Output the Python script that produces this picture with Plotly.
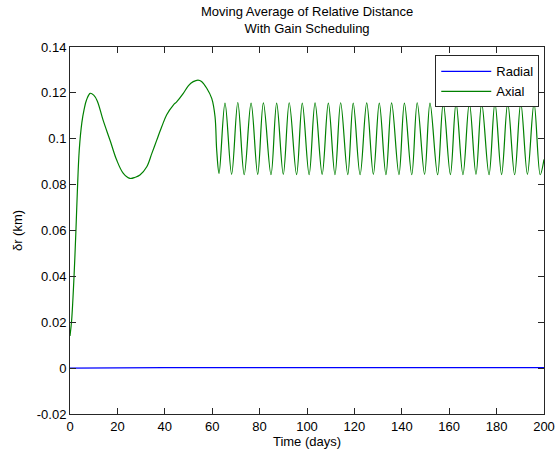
import plotly.graph_objects as go

# ---- data ----
radial_t = [0, 15, 40, 80, 120, 160, 200]
radial_v = [0.0, 0.0001, 0.0002, 0.0002, 0.0002, 0.0002, 0.0002]

axial_t = [0, 0.7, 1.7, 2.5, 3.1, 3.9, 5.0, 6.0, 7.0, 8.5, 10.0, 11.5, 14.0, 17.0,
           19.7, 22.5, 25.3, 27.5, 29.5, 32.4, 34.5, 36.6, 38.7, 40.8, 43.6, 45.0,
           47.8, 50.0, 52.0, 54.0, 55.5, 57.7, 59.8, 61.2, 61.9, 62.9,
           65.4, 68.2, 70.8, 73.5, 76.4, 79.2, 81.6, 84.8, 87.2, 90.0, 92.5, 95.6,
           98.0, 100.9, 103.4, 106.4, 109.0, 111.8, 114.2, 117.2, 119.5, 122.4,
           125.2, 128.0, 130.5, 133.3, 135.7, 138.8, 141.1, 144.2, 146.5, 149.6,
           151.9, 155.1, 157.5, 160.5, 162.9, 165.8, 168.5, 171.3, 173.7, 176.8,
           179.3, 182.1, 184.7, 187.6, 190.2, 193.0, 195.8, 198.4, 200.0]
axial_v = [0.014, 0.021, 0.040, 0.060, 0.077, 0.095, 0.107, 0.113, 0.117, 0.1198,
           0.119, 0.1165, 0.108, 0.099, 0.0907, 0.0849, 0.0827, 0.0832, 0.0842,
           0.0878, 0.0935, 0.0994, 0.1052, 0.1105, 0.1147, 0.1161, 0.1198, 0.1232,
           0.1249, 0.1256, 0.1250, 0.122, 0.1176, 0.1096, 0.095, 0.0849,
           0.1155, 0.0845, 0.1158, 0.0843, 0.1155, 0.0845, 0.1156, 0.0843, 0.1155,
           0.0845, 0.1157, 0.0844, 0.1155, 0.0843, 0.1156, 0.0845, 0.1155, 0.0843,
           0.1157, 0.0844, 0.1155, 0.0843, 0.1156, 0.0845, 0.1155, 0.0843, 0.1156,
           0.0844, 0.1155, 0.0843, 0.1157, 0.0845, 0.1155, 0.0843, 0.1156, 0.0844,
           0.1155, 0.0843, 0.1157, 0.0845, 0.1155, 0.0843, 0.1156, 0.0844, 0.1155,
           0.0843, 0.1156, 0.0845, 0.1155, 0.0843, 0.091]

x_ticks = [0, 20, 40, 60, 80, 100, 120, 140, 160, 180, 200]
x_labels = ["0", "20", "40", "60", "80", "100", "120", "140", "160", "180", "200"]
y_ticks = [-0.02, 0, 0.02, 0.04, 0.06, 0.08, 0.1, 0.12, 0.14]
y_labels = ["-0.02", "0", "0.02", "0.04", "0.06", "0.08", "0.1", "0.12", "0.14"]

FONT = "Liberation Sans, Arial, sans-serif"
FS = 13

fig = go.Figure()
fig.add_trace(go.Scatter(x=radial_t, y=radial_v, mode="lines", name="Radial",
                         line=dict(color="#0000ff", width=1.2)))
fig.add_trace(go.Scatter(x=axial_t, y=axial_v, mode="lines", name="Axial",
                         line=dict(color="#008000", width=1.2, shape="spline",
                                   smoothing=1)))

axis_common = dict(showgrid=False, zeroline=False, showline=True, mirror="ticks",
                   linecolor="#262626", linewidth=1, ticks="inside", ticklen=6,
                   tickcolor="#262626", automargin=False,
                   tickfont=dict(family=FONT, size=FS, color="black"))

fig.update_layout(
    width=560, height=455,
    margin=dict(l=70, r=16, t=47, b=41, autoexpand=False),
    paper_bgcolor="white", plot_bgcolor="white",
    font=dict(family=FONT, size=FS, color="black"),
    showlegend=True,
    xaxis=dict(range=[0, 200], tickvals=x_ticks, ticktext=x_labels,
               title=dict(text="Time (days)", standoff=2,
                          font=dict(family=FONT, size=FS)), **axis_common),
    yaxis=dict(range=[-0.02, 0.14], tickvals=y_ticks, ticktext=y_labels,
               title=dict(text="δr (km)", standoff=11,
                          font=dict(family=FONT, size=FS)), **axis_common),
    legend=dict(x=0.99, xanchor="right", y=0.977, yanchor="top",
                bgcolor="white", bordercolor="#262626", borderwidth=1,
                itemwidth=50,
                font=dict(family=FONT, size=FS), tracegroupgap=0),
    annotations=[dict(text="Moving Average of Relative Distance<br>With Gain Scheduling",
                      xref="paper", yref="paper", x=0.5, y=1.0, yshift=9,
                      xanchor="center", yanchor="bottom", showarrow=False,
                      font=dict(family=FONT, size=FS, color="black"))],
)

fig.write_html("out.html")
